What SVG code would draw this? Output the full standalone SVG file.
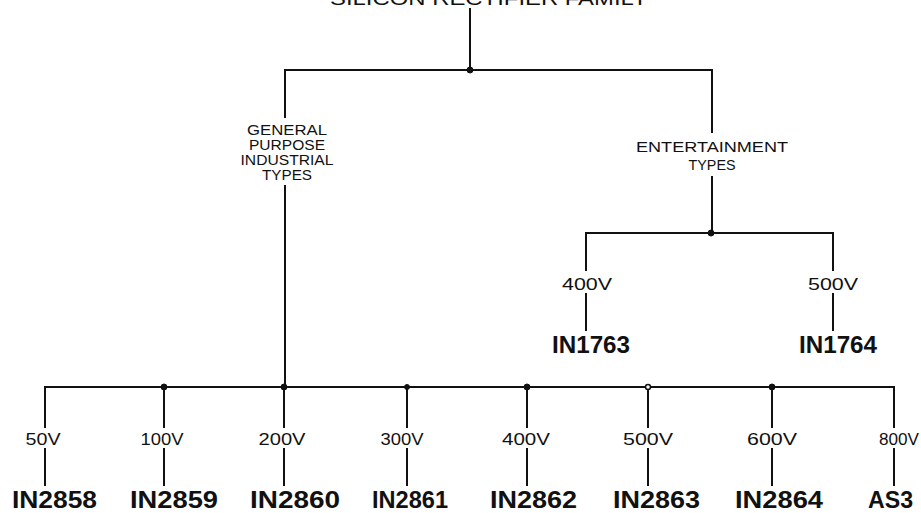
<svg xmlns="http://www.w3.org/2000/svg" width="921" height="513" viewBox="0 0 921 513">
<style>
  .bg{fill:#ffffff}
  .ln{stroke:#111;stroke-width:2;fill:none;stroke-linecap:square}
  .dot{fill:#111;stroke:#111;stroke-width:1}
  .odot{fill:#fff;stroke:#111;stroke-width:1.5}
  text{font-family:"Liberation Sans",Arial,sans-serif;fill:#111}
  .lbl{font-size:16px;text-anchor:middle}
  .cat{font-size:14px;text-anchor:middle}
  .part{font-size:24px;font-weight:bold}
  .title{font-size:18px;text-anchor:middle}
</style>
<rect class="bg" x="0" y="0" width="921" height="513"/>

<g id="connectors">
  <path class="ln" d="M470 9V70"/>
  <path class="ln" d="M285 70H712"/>
  <path class="ln" d="M285 70V117"/>
  <path class="ln" d="M285 186V387"/>
  <path class="ln" d="M712 70V132"/>
  <path class="ln" d="M712 177V233"/>
  <path class="ln" d="M586 233H833"/>
  <path class="ln" d="M586 233V270M586 294V330"/>
  <path class="ln" d="M833 233V270M833 294V330"/>
  <path class="ln" d="M45 387H894"/>
  <path class="ln" d="M45 387V427M45 449V485"/>
  <path class="ln" d="M164 387V427M164 449V485"/>
  <path class="ln" d="M284 387V427M284 449V485"/>
  <path class="ln" d="M407 387V427M407 449V485"/>
  <path class="ln" d="M527 387V427M527 449V485"/>
  <path class="ln" d="M648 387V427M648 449V485"/>
  <path class="ln" d="M772 387V427M772 449V485"/>
  <path class="ln" d="M894 387V427M894 449V485"/>
  <circle class="dot" cx="470" cy="70" r="3"/>
  <circle class="dot" cx="711" cy="233" r="3"/>
  <circle class="dot" cx="164" cy="387" r="3"/>
  <circle class="dot" cx="284" cy="387" r="3"/>
  <circle class="dot" cx="407" cy="387" r="2.5"/>
  <circle class="dot" cx="527" cy="387" r="3"/>
  <circle class="odot" cx="648" cy="387" r="2.5"/>
  <circle class="dot" cx="772" cy="387" r="3"/>
</g>

<g id="title">
  <text class="title" x="489" y="5" textLength="318" lengthAdjust="spacingAndGlyphs">SILICON RECTIFIER FAMILY</text>
</g>

<g id="general">
  <text class="cat" x="287" y="135" textLength="80" lengthAdjust="spacingAndGlyphs">GENERAL</text>
  <text class="cat" x="287" y="150" textLength="76" lengthAdjust="spacingAndGlyphs">PURPOSE</text>
  <text class="cat" x="287" y="165" textLength="93" lengthAdjust="spacingAndGlyphs">INDUSTRIAL</text>
  <text class="cat" x="287" y="180" textLength="50" lengthAdjust="spacingAndGlyphs">TYPES</text>
</g>

<g id="entertainment">
  <text class="cat" x="712" y="152" textLength="152" lengthAdjust="spacingAndGlyphs">ENTERTAINMENT</text>
  <text class="cat" x="712" y="170" textLength="47" lengthAdjust="spacingAndGlyphs">TYPES</text>
</g>

<g id="in1763">
  <text class="lbl" x="587" y="290" textLength="50" lengthAdjust="spacingAndGlyphs">400V</text>
  <text class="part" x="552" y="353" textLength="78" lengthAdjust="spacingAndGlyphs">IN1763</text>
</g>
<g id="in1764">
  <text class="lbl" x="833" y="290" textLength="50" lengthAdjust="spacingAndGlyphs">500V</text>
  <text class="part" x="799" y="353" textLength="78" lengthAdjust="spacingAndGlyphs">IN1764</text>
</g>

<g id="in2858">
  <text class="lbl" x="43" y="445" textLength="35" lengthAdjust="spacingAndGlyphs">50V</text>
  <text class="part" x="12" y="508" textLength="85" lengthAdjust="spacingAndGlyphs">IN2858</text>
</g>
<g id="in2859">
  <text class="lbl" x="162" y="445" textLength="43" lengthAdjust="spacingAndGlyphs">100V</text>
  <text class="part" x="130" y="508" textLength="88" lengthAdjust="spacingAndGlyphs">IN2859</text>
</g>
<g id="in2860">
  <text class="lbl" x="282" y="445" textLength="47" lengthAdjust="spacingAndGlyphs">200V</text>
  <text class="part" x="250" y="508" textLength="90" lengthAdjust="spacingAndGlyphs">IN2860</text>
</g>
<g id="in2861">
  <text class="lbl" x="402" y="445" textLength="43" lengthAdjust="spacingAndGlyphs">300V</text>
  <text class="part" x="372" y="508" textLength="76" lengthAdjust="spacingAndGlyphs">IN2861</text>
</g>
<g id="in2862">
  <text class="lbl" x="526" y="445" textLength="48" lengthAdjust="spacingAndGlyphs">400V</text>
  <text class="part" x="490" y="508" textLength="87" lengthAdjust="spacingAndGlyphs">IN2862</text>
</g>
<g id="in2863">
  <text class="lbl" x="648" y="445" textLength="50" lengthAdjust="spacingAndGlyphs">500V</text>
  <text class="part" x="613" y="508" textLength="87" lengthAdjust="spacingAndGlyphs">IN2863</text>
</g>
<g id="in2864">
  <text class="lbl" x="772" y="445" textLength="50" lengthAdjust="spacingAndGlyphs">600V</text>
  <text class="part" x="735" y="508" textLength="88" lengthAdjust="spacingAndGlyphs">IN2864</text>
</g>
<g id="as3">
  <text class="lbl" x="899" y="445" textLength="40" lengthAdjust="spacingAndGlyphs">800V</text>
  <text class="part" x="868" y="508" textLength="45" lengthAdjust="spacingAndGlyphs">AS3</text>
</g>
</svg>
